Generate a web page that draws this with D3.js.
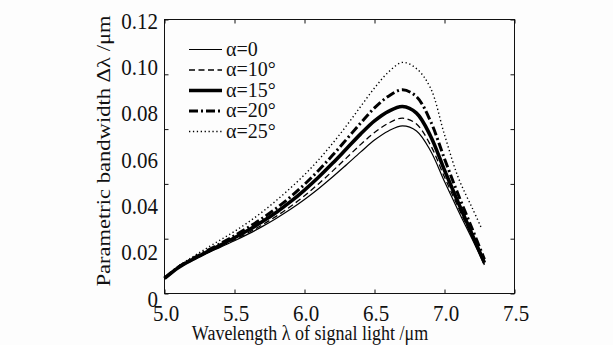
<!DOCTYPE html>
<html><head><meta charset="utf-8">
<script src="https://cdn.jsdelivr.net/npm/d3@7"></script>
<style>
html,body{margin:0;padding:0;background:#fdfdfd;}
svg{display:block;}
text{font-family:"Liberation Serif","Times New Roman",serif;fill:#111;}
</style>
</head><body>
<svg id="c" width="613" height="345"></svg>
<script>
// ---- data ----
const lambda = [5.0,5.1,5.2,5.3,5.4,5.5,5.6,5.7,5.8,5.9,6.0,6.1,6.2,6.3,6.4,6.5,6.6,6.7,6.8,6.9,7.0,7.1,7.2];
const endLambda = [7.285,7.285,7.285,7.285,7.265];
const seriesNames = ["α=0","α=10°","α=15°","α=20°","α=25°"];
const alpha0  = [0.0066,0.0112,0.0145,0.0175,0.0203,0.0231,0.0261,0.0294,0.0330,0.0369,0.0412,0.0459,0.0510,0.0564,0.0619,0.0672,0.0712,0.0734,0.0712,0.0625,0.0490,0.0360,0.0235,0.0125];
const alpha10 = [0.0066,0.0113,0.0147,0.0178,0.0207,0.0236,0.0267,0.0301,0.0339,0.0381,0.0428,0.0480,0.0536,0.0594,0.0652,0.0705,0.0746,0.0768,0.0742,0.0650,0.0510,0.0375,0.0245,0.0130];
const alpha15 = [0.0066,0.0114,0.0149,0.0181,0.0212,0.0244,0.0278,0.0315,0.0356,0.0402,0.0453,0.0509,0.0570,0.0634,0.0698,0.0756,0.0798,0.0819,0.0790,0.0690,0.0540,0.0395,0.0255,0.0135];
const alpha20 = [0.0067,0.0116,0.0152,0.0186,0.0219,0.0253,0.0290,0.0330,0.0374,0.0423,0.0478,0.0539,0.0605,0.0675,0.0746,0.0813,0.0864,0.0892,0.0862,0.0755,0.0590,0.0430,0.0280,0.0150];
const alpha25 = [0.0068,0.0120,0.0160,0.0198,0.0235,0.0272,0.0313,0.0358,0.0408,0.0462,0.0520,0.0585,0.0657,0.0735,0.0818,0.0900,0.0970,0.1012,0.0985,0.0900,0.0695,0.0505,0.0372,0.0285];
const xTicks = [5.0,5.5,6.0,6.5,7.0,7.5];
const yTickLabels = [0,0.02,0.04,0.06,0.08,0.10,0.12];
const yTickMarks = [0,0.024,0.048,0.072,0.096,0.12];
const xTitle = "Wavelength λ of signal light /μm";
const yTitle = "Parametric bandwidth Δλ /μm";

// ---- layout ----
const svg = d3.select("#c");
const L = 164.5, R = 514.5, T = 19.5, B = 293.5;
const x = d3.scaleLinear().domain([5, 7.5]).range([L, R]);
const y = d3.scaleLinear().domain([0, 0.12]).range([B, T]);
const yLab = d3.scaleLinear().domain([0, 0.12]).range([298, 20]);

const allSeries = [alpha0, alpha10, alpha15, alpha20, alpha25];
const styles = [
  {w:1.2, dash:null},
  {w:1.3, dash:"6,3.5"},
  {w:3.6, dash:null},
  {w:3.0, dash:"9,3,2,3"},
  {w:1.4, dash:"1.3,2.6"}
];

// frame
svg.append("rect").attr("x", L).attr("y", T).attr("width", R - L).attr("height", B - T)
  .attr("fill", "none").attr("stroke", "#111").attr("stroke-width", 1);

// tick marks (inward)
function ticksOnly(g){ g.select(".domain").remove(); g.selectAll("text").remove(); g.selectAll("line").attr("stroke","#111"); }
svg.append("g").attr("transform", `translate(0,${B})`).call(d3.axisBottom(x).tickValues(xTicks).tickSize(-4)).call(ticksOnly);
svg.append("g").attr("transform", `translate(0,${T})`).call(d3.axisTop(x).tickValues(xTicks).tickSize(-4)).call(ticksOnly);
svg.append("g").attr("transform", `translate(${L},0)`).call(d3.axisLeft(y).tickValues(yTickMarks).tickSize(-4)).call(ticksOnly);
svg.append("g").attr("transform", `translate(${R},0)`).call(d3.axisRight(y).tickValues(yTickMarks).tickSize(-4)).call(ticksOnly);

// x tick labels
const gx = svg.append("g")
  .call(d3.axisBottom(x).tickValues(xTicks).tickSize(0).tickFormat(d3.format(".1f")));
gx.select(".domain").remove();
gx.selectAll("text").attr("y", null).attr("dy", null)
  .attr("transform", "translate(1,320.5) scale(1,1.1)")
  .style("font-size", "21px").style("font-family", '"Liberation Serif",serif').attr("fill", "#111");

// y tick labels
const gy = svg.append("g").attr("transform", "translate(158,0)")
  .call(d3.axisLeft(yLab).tickValues(yTickLabels).tickSize(0).tickFormat(d => d === 0 ? "0" : d3.format(".2f")(d)));
gy.select(".domain").remove();
gy.selectAll("text").attr("x", 0).attr("dy", null).attr("y", null)
  .attr("transform", "translate(0,8) scale(1,1.1)")
  .style("font-size", "21px").style("font-family", '"Liberation Serif",serif').attr("fill", "#111");

// axis titles
svg.append("text").attr("text-anchor", "middle")
  .attr("transform", "translate(310,340) scale(1,1.2)")
  .style("font-size", "18px").text(xTitle);
svg.append("text").attr("text-anchor", "middle")
  .attr("transform", "translate(110,151) scale(1,1.22) rotate(-90)")
  .style("font-size", "18.5px").text(yTitle);

// curves
const line = d3.line().x(d => x(d[0])).y(d => y(d[1])).curve(d3.curveCatmullRom.alpha(0.5));
allSeries.forEach((vals, i) => {
  const xs = lambda.concat([endLambda[i]]);
  const pts = vals.map((v, j) => [xs[j], v]);
  const p = svg.append("path").attr("d", line(pts)).attr("fill", "none")
    .attr("stroke", "#000").attr("stroke-width", styles[i].w);
  if (styles[i].dash) p.attr("stroke-dasharray", styles[i].dash);
});

// legend
seriesNames.forEach((name, i) => {
  const ry = 49.5 + i * 20.5;
  const l = svg.append("line").attr("x1", 189).attr("x2", 222).attr("y1", ry).attr("y2", ry)
    .attr("stroke", "#000").attr("stroke-width", styles[i].w);
  if (styles[i].dash) l.attr("stroke-dasharray", styles[i].dash);
  svg.append("text").attr("x", 226).attr("y", ry + 6).style("font-size", "20px").text(name);
});
</script>
</body></html>
